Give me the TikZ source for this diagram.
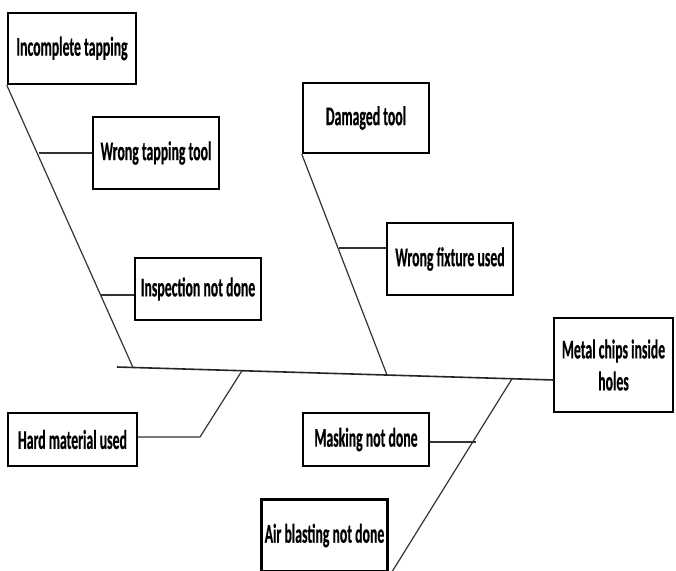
\documentclass[tikz,border=0pt]{standalone}
\usepackage{fontspec}
\newfontfamily\lblfont{Carlito}[FakeStretch=0.51, BoldFeatures={FakeBold=0.4}]
\begin{document}
\begin{tikzpicture}[x=1pt,y=-1pt,
  box/.style={draw=black, line width=2.4pt, inner sep=0pt, align=center,
    font=\lblfont\bfseries\fontsize{27}{32}\selectfont, text=black},
  conn/.style={draw=black!80, line width=1.2pt},
  spine/.style={draw=black!85, line width=1.6pt}]
\useasboundingbox (0,0) rectangle (676,570);
\fill[white] (0,0) rectangle (676,570);

% nodes
\node[box, minimum width=128pt, minimum height=71pt] (inc)     at (72,48.5)   {Incomplete tapping};
\node[box, minimum width=126pt, minimum height=72pt] (wtt)     at (156,153)   {Wrong tapping tool};
\node[box, minimum width=126pt, minimum height=62pt] (insp)    at (198,289)   {Inspection not done};
\node[box, minimum width=126pt, minimum height=70pt] (dam)     at (366,118)   {Damaged tool};
\node[box, minimum width=126pt, minimum height=72pt] (wfu)     at (450,259)   {Wrong fixture used};
\node[box, minimum width=119pt, minimum height=94pt] (metal)   at (613.5,365) {Metal chips inside\\holes};
\node[box, minimum width=129pt, minimum height=53pt] (hard)    at (72.5,439.5){Hard material used};
\node[box, minimum width=126pt, minimum height=53pt] (mask)    at (366,439.5) {Masking not done};
\node[box, minimum width=126pt, minimum height=72pt] (air)     at (324.5,535.5){Air blasting not done};

% coordinates
\coordinate (sL)    at (117,367);
\coordinate (sR)    at (554,380);
\coordinate (jInc)  at (133,367.5);
\coordinate (jHard) at (242,370.7);
\coordinate (jDam)  at (387,375);
\coordinate (jAir)  at (512,378.8);
\coordinate (bWT)   at (38.5,153);
\coordinate (bIn)   at (101,295);
\coordinate (bWF)   at (339,248);
\coordinate (hardK) at (200,437);
\coordinate (bMa)   at (476,442);
\coordinate (airEnd) at (390,575);

% spine
\draw[spine] (sL) -- (sR);

% bones
\draw[conn] (inc.south west) -- (jInc);
\draw[conn] (bWT) -- (wtt.west);
\draw[conn] (bIn) -- (insp.west |- bIn);
\draw[conn] (dam.south west) -- (jDam);
\draw[conn] (bWF) -- (wfu.west |- bWF);
\draw[conn] (jHard) -- (hardK) -- (hard.east |- hardK);
\draw[conn] (jAir) -- (airEnd);
\draw[conn] (mask.east |- bMa) -- (bMa);
\end{tikzpicture}
\end{document}
